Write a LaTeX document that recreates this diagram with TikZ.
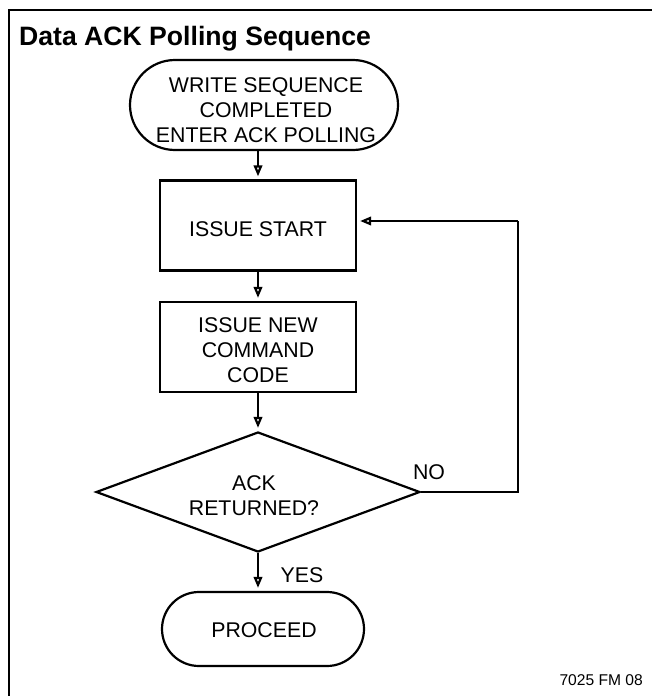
\documentclass[tikz,border=0pt]{standalone}
\usepackage{fontspec}
\setmainfont{Liberation Sans}
\usetikzlibrary{shapes.geometric,arrows.meta}
\begin{document}
\begin{tikzpicture}[x=1pt,y=-1pt,
  shapeline/.style={draw,line width=2.2pt,inner sep=0pt},
  boxshape/.style={shapeline,rectangle,minimum width=196pt,minimum height=90pt},
  termshape/.style={shapeline,rectangle},
  txt/.style={font=\fontsize{21.3}{25}\selectfont,align=center,inner sep=0pt},
  conn/.style={line width=1.3pt,-{Triangle[open,length=11pt,width=8.5pt,line width=2.2pt]},shorten >=3pt},
  plain/.style={line width=1.3pt}
]
\useasboundingbox (0,0) rectangle (652,696);
% frame
\draw[line width=2.2pt] (9,697) -- (9,10) -- (653,10);
\node[anchor=base west,inner sep=0pt,font=\bfseries\fontsize{26.6}{30}\selectfont] (title) at (19,45) {Data ACK Polling Sequence};

% shapes
\node[termshape,minimum width=268pt,minimum height=90pt,rounded corners=45pt] (start) at (264,105) {};
\node[txt] (starttext) at (266,110) {WRITE SEQUENCE\\COMPLETED\\ENTER ACK POLLING};

\node[boxshape] (box1) at (258,225.5) {};
\node[txt] (box1text) at (258,229) {ISSUE START};

\node[boxshape] (box2) at (258,347) {};
\node[txt] (box2text) at (258,350.5) {ISSUE NEW\\COMMAND\\CODE};

\node[shapeline,diamond,minimum width=324pt,minimum height=120pt] (dia) at (258,492) {};
\node[txt] (diatext) at (254,496) {ACK\\RETURNED?};

\node[termshape,minimum width=202pt,minimum height=74pt,rounded corners=37pt] (proceed) at (263,629) {};
\node[txt] (proceedtext) at (264,630) {PROCEED};

% connectors
\draw[conn] (box1.north |- start.south) -- (box1.north);
\draw[conn] (box1.south) -- (box2.north);
\draw[conn] (box2.south) -- (dia.north);
\draw[conn] (dia.south) -- (dia.south |- proceed.north);
\coordinate (loopc) at (518,221);
\draw[plain] (dia.east) -| (loopc);
\draw[conn] (loopc) -- (loopc -| box1.east);

% labels
\node[txt] (nolbl) at (429,472) {NO};
\node[txt] (yeslbl) at (302,575) {YES};
\node[anchor=base east,inner sep=0pt,font=\fontsize{15.6}{18}\selectfont] (figid) at (643,685) {7025 FM 08};
\end{tikzpicture}
\end{document}
